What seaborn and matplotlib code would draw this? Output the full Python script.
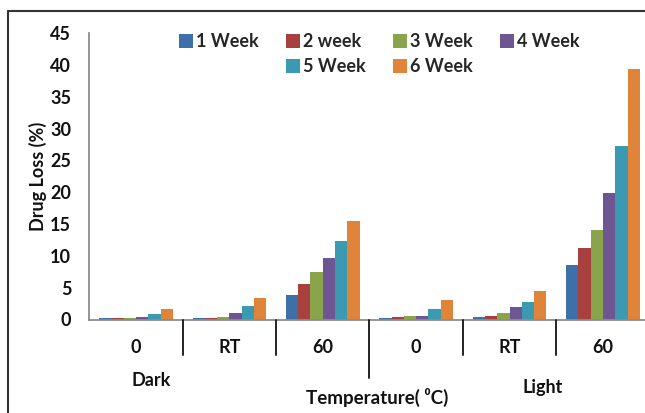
import pandas as pd
import numpy as np
import matplotlib.pyplot as plt
import matplotlib.patches as mpatches
import matplotlib.lines as mlines
import seaborn as sns

# data
groups = ['Dark 0', 'Dark RT', 'Dark 60', 'Light 0', 'Light RT', 'Light 60']
tick_labels = ['0', 'RT', '60', '0', 'RT', '60']
weeks = ['1 Week', '2 week', '3 Week', '4 Week', '5 Week', '6 Week']
week1 = [0.2, 0.2, 3.9, 0.2, 0.4, 8.5]
week2 = [0.2, 0.2, 5.6, 0.4, 0.6, 11.3]
week3 = [0.2, 0.45, 7.5, 0.6, 1.05, 14.1]
week4 = [0.45, 1.05, 9.7, 0.6, 1.9, 19.8]
week5 = [0.85, 2.1, 12.4, 1.7, 2.75, 27.3]
week6 = [1.7, 3.3, 15.4, 3.0, 4.5, 39.4]
colors = ['#3D6FA9', '#A8403E', '#89A44A', '#6E5692', '#3B9AB1', '#E0843A']

series_ = [week1, week2, week3, week4, week5, week6]
rows = []
for w, vals in zip(weeks, series_):
    for g, v in zip(groups, vals):
        rows.append({'group': g, 'week': w, 'loss': v})
_df = pd.DataFrame(rows)

sns.set_style('white')
plt.rcParams['font.family'] = ['Lato', 'DejaVu Sans']
plt.rcParams['font.weight'] = 'bold'

W, H = 645, 413
fs = 13
fig = plt.figure(figsize=(W / 100, H / 100), dpi=100)
ax = fig.add_axes([89.3 / W, (H - 319.5) / H, (645 - 89.3) / W, (319.5 - 33) / H])

sns.barplot(data=_df, x='group', y='loss', hue='week', order=groups, hue_order=weeks,
            palette=colors, width=0.79, saturation=1, ax=ax, linewidth=0)
handles, labels = ax.get_legend_handles_labels()
ax.legend_.remove()

ax.set_ylim(0, 45)
ax.set_xlim(-0.5, 5.45)
ax.set_yticks(np.arange(0, 46, 5))
ax.set_yticklabels([str(v) for v in range(0, 46, 5)], fontsize=fs, fontweight='bold', color='#111')
ax.set_xticks(range(6))
ax.set_xticklabels(tick_labels, fontsize=fs, fontweight='bold', color='#111')
ax.tick_params(axis='y', length=0, pad=13)
ax.tick_params(axis='x', length=0, pad=14)
ax.set_xlabel('')
ax.set_ylabel('Drug Loss (%)', fontsize=fs, fontweight='bold', labelpad=2, color='#111')
for s in ['top', 'right']:
    ax.spines[s].set_visible(False)
for s in ['left', 'bottom']:
    ax.spines[s].set_color('#8c8c8c')
    ax.spines[s].set_linewidth(1.3)

# category dividers below the axis
def px(x, y):
    return x / W, (H - y) / H

for xb in [0.5, 1.5, 2.5, 3.5, 4.5]:
    xd = ax.transData.transform((xb, 0))[0]
    y_end = 378 if xb == 2.5 else 355
    fig.add_artist(mlines.Line2D([xd / W, xd / W], [(H - 320) / H, (H - y_end) / H],
                                 color='#222', lw=1.4))

fig.text(*px(151, 380), 'Dark', ha='center', va='center', fontsize=fs, fontweight='bold', color='#111')
fig.text(*px(543, 388), 'Light', ha='center', va='center', fontsize=fs, fontweight='bold', color='#111')
fig.text(*px(377, 397), 'Temperature( \u2070C)', ha='center', va='center', fontsize=fs + 0.5,
         fontweight='bold', color='#111')

# chart border (top and left visible)
fig.add_artist(mlines.Line2D([8 / W, 8 / W], [0, (H - 11) / H], color='#333', lw=1.5))
fig.add_artist(mlines.Line2D([8 / W, 1], [(H - 11) / H, (H - 11) / H], color='#333', lw=1.5))

# legend: row 1 has four entries, row 2 two entries under 2nd and 3rd columns
blank = mpatches.Patch(color='none', label='')
leg_h = [handles[0], blank, handles[1], handles[4], handles[2], handles[5], handles[3], blank]
leg_l = [labels[0], '', labels[1], labels[4], labels[2], labels[5], labels[3], '']
fig.legend(leg_h, leg_l, ncol=4, loc='upper left', bbox_to_anchor=px(163, 17),
           frameon=False, handlelength=0.75, handleheight=0.75, handletextpad=0.2,
           columnspacing=1.5, labelspacing=0.45, prop={'size': fs, 'weight': 'bold'})

fig.savefig('out.png', dpi=100)
